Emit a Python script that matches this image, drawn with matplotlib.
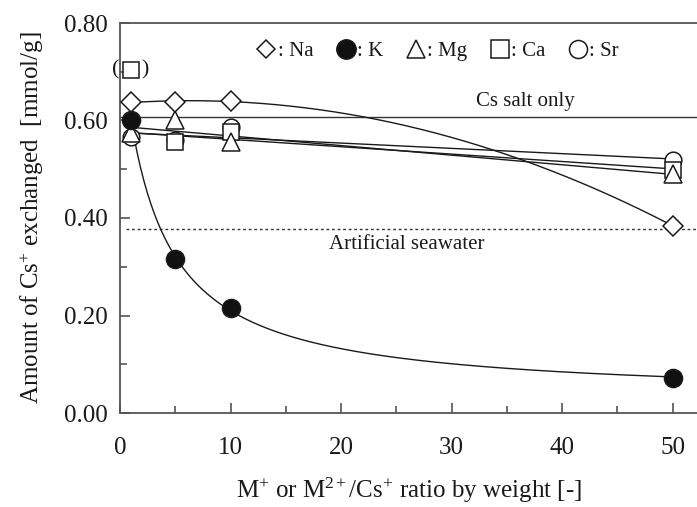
import numpy as np
import matplotlib
matplotlib.use("Agg")
import matplotlib.pyplot as plt
from matplotlib.lines import Line2D
from matplotlib.ticker import MultipleLocator, FormatStrFormatter

plt.rcParams['font.family'] = ['Liberation Serif', 'DejaVu Serif']
plt.rcParams['mathtext.fontset'] = 'custom'
plt.rcParams['mathtext.rm'] = 'Liberation Serif'
plt.rcParams['mathtext.it'] = 'Liberation Serif:italic'

# ---- data ----
ratio = [1, 5, 10, 50]
na = [0.638, 0.638, 0.640, 0.384]
k = [0.602, 0.316, 0.216, 0.072]
mg = [0.575, 0.602, 0.555, 0.490]
ca_x = [5, 10, 50]
ca = [0.555, 0.577, 0.499]
ca_outlier_x = [1]
ca_outlier = [0.703]
sr = [0.566, 0.560, 0.586, 0.518]
cs_only = 0.607
seawater = 0.378

C = '#1a1a1a'
fig = plt.figure(figsize=(6.97, 5.07), dpi=100)
ax = fig.add_axes([120/697, 1-413/507, 1-120/697, (413-23)/507])
ax.set_xlim(0, 52.2)
ax.set_ylim(0, 0.80)

# reference lines
ax.axhline(cs_only, color='#333333', lw=1.0, zorder=1)
ax.plot([0.5, 52.2], [seawater, seawater], color='#333333', lw=1.0, ls=(0, (2, 2)), zorder=1)
ax.text(36.7, cs_only + 0.013, 'Cs salt only', ha='center', va='bottom', fontsize=15, color=C)
ax.text(25.9, seawater - 0.012, 'Artificial seawater', ha='center', va='top', fontsize=15, color=C)

xs = np.linspace(1, 50, 300)

# K: fit y = a + b/(x + c)
kx = np.array(ratio, float); ky = np.array(k)
best = None
for c in np.linspace(0.1, 10, 400):
    A = np.vstack([np.ones_like(kx), 1/(kx + c)]).T
    sol, res, *_ = np.linalg.lstsq(A, ky, rcond=None)
    err = np.sum((A @ sol - ky)**2)
    if best is None or err < best[0]:
        best = (err, c, sol)
_, kc, (ka, kb) = best
ax.plot(xs, ka + kb/(xs + kc), color=C, lw=1.0, zorder=2)

# Na: quadratic fit
pna = np.polyfit(ratio, na, 2)
ax.plot(xs, np.polyval(pna, xs), color=C, lw=1.0, zorder=2)

# Mg, Ca, Sr: linear fits
for xx, yy in [(ratio, mg), (ca_x, ca), (ratio, sr)]:
    p = np.polyfit(xx, yy, 1)
    ax.plot(xs, np.polyval(p, xs), color=C, lw=1.0, zorder=2)

mk = dict(ls='none', mec=C, mew=1.1, zorder=3)
ax.plot(ratio, sr, marker='o', ms=12, mfc='white', **mk)
ax.plot(ca_x, ca, marker='s', ms=11, mfc='white', **mk)
ax.plot(ratio, mg, marker='^', ms=13, mfc='white', **mk)
ax.plot(ratio, k, marker='o', ms=13, mfc='#111111', **mk)
ax.plot(ratio, na, marker='D', ms=10, mfc='white', **mk)
ax.plot(ca_outlier_x, ca_outlier, marker='s', ms=11, mfc='white', **mk)
ax.text(ca_outlier_x[0], ca_outlier[0], '(    )', ha='center', va='center', fontsize=16, color=C)

# legend
handles = [
    Line2D([], [], marker='D', ms=9, mfc='white', mec=C, ls='none', mew=1.1),
    Line2D([], [], marker='o', ms=14, mfc='#111111', mec=C, ls='none'),
    Line2D([], [], marker='^', ms=13, mfc='white', mec=C, ls='none', mew=1.1),
    Line2D([], [], marker='s', ms=13, mfc='white', mec=C, ls='none', mew=1.1),
    Line2D([], [], marker='o', ms=13, mfc='white', mec=C, ls='none', mew=1.1),
]
labels = [': Na', ': K', ': Mg', ': Ca', ': Sr']
leg = ax.legend(handles, labels, ncol=5, loc='upper center', bbox_to_anchor=(0.55, 1.0),
                frameon=False, fontsize=15, handlelength=1.0, handletextpad=0.05,
                columnspacing=1.05)
for t in leg.get_texts():
    t.set_color(C)

# axes styling
for s in ['left', 'bottom', 'top']:
    ax.spines[s].set_color('#555555')
    ax.spines[s].set_linewidth(1.3)
ax.spines['right'].set_visible(False)
ax.xaxis.set_major_locator(MultipleLocator(10))
ax.xaxis.set_minor_locator(MultipleLocator(5))
ax.yaxis.set_major_locator(MultipleLocator(0.2))
ax.yaxis.set_minor_locator(MultipleLocator(0.1))
ax.yaxis.set_major_formatter(FormatStrFormatter('%.2f'))
ax.tick_params(which='both', direction='in', colors='#555555', labelcolor=C, labelsize=18)
ax.tick_params(which='major', length=7, width=1.2)
ax.tick_params(axis='y', which='major', pad=9)
ax.tick_params(axis='x', which='major', pad=17)
ax.tick_params(which='minor', length=5, width=1.2)
ax.tick_params(axis='x', which='both', top=False)
ax.tick_params(axis='y', which='both', right=False)

ax.set_xlabel(r'M$^{+}$ or M$^{2+}$/Cs$^{+}$ ratio by weight [-]', fontsize=18, color=C, labelpad=12)
ax.set_ylabel(r'Amount of Cs$^{+}$ exchanged  [mmol/g]', fontsize=18, color=C, labelpad=13)

fig.savefig('out.png', dpi=100)
